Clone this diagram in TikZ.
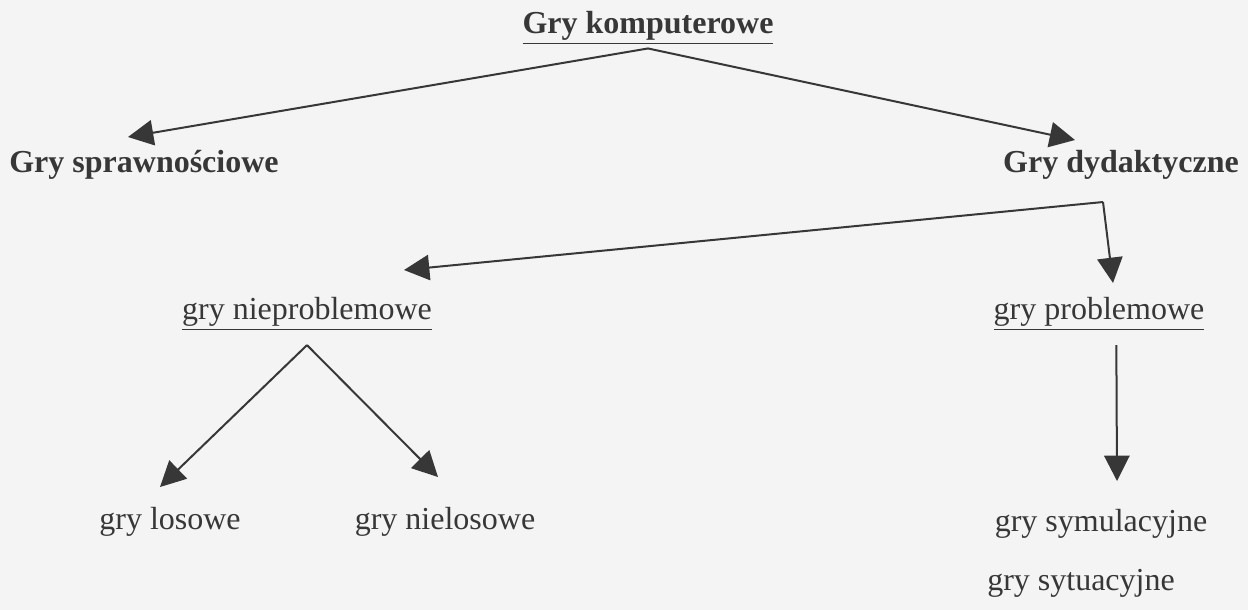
\documentclass[tikz,border=0pt]{standalone}
\usepackage{fontspec}
\setmainfont{Liberation Serif}
\usetikzlibrary{arrows.meta}
\definecolor{ink}{RGB}{55,55,55}
\definecolor{paper}{RGB}{244,244,244}

\begin{document}
\begin{tikzpicture}[x=0.375pt,y=-0.375pt,
		lbl/.style={anchor=base,text=ink,inner sep=1pt,font=\fontsize{12}{14}\selectfont},
		head/.style={lbl,font=\fontsize{12}{14}\selectfont\bfseries},
		arr/.style={-{Triangle[length=9.5pt,width=9.5pt]},draw=ink,line width=0.75pt}]
				\useasboundingbox (0,0) rectangle (1248,610);
				\fill[paper] (0,0) rectangle (1248,610);
				\node[head] at (648,33) (komp) {\underline{Gry komputerowe}};
				\node[head] at (144,172) (spraw) {Gry sprawnościowe};
				\node[head] at (1121,172) (dyd) {Gry dydaktyczne};
				\node[lbl] at (307,319) (nieprob) {\underline{gry nieproblemowe}};
				\node[lbl] at (1099,319) (prob) {\underline{gry problemowe}};
				\node[lbl] at (170,529) (los) {gry losowe};
				\node[lbl] at (445,529) (nielos) {gry nielosowe};
				\node[lbl] at (1101,531) (symul) {gry symulacyjne};
				\node[lbl] at (1081,590) (sytu) {gry sytuacyjne};
				
				% punkty pomocnicze
				\coordinate (dydc) at (1103,202);
				\coordinate (spraw-t) at (128,137);
				\coordinate (dyd-t) at (1075,140);
				\coordinate (nieprob-t) at (404,270);
				\coordinate (prob-t) at (1113,283);
				\coordinate (los-t) at (160,487);
				\coordinate (nielos-t) at (438,477);
				\coordinate (symul-t) at (1117,481);
				
				\draw[arr] (komp.south) -- (spraw-t);
				\draw[arr] (komp.south) -- (dyd-t);
				\draw[arr] (dydc) -- (nieprob-t);
				\draw[arr] (dydc) -- (prob-t);
				\draw[arr] ([yshift=-4pt]nieprob.south) -- (los-t);
				\draw[arr] ([yshift=-4pt]nieprob.south) -- (nielos-t);
				\draw[arr] ([xshift=6.5pt,yshift=-4pt]prob.south) -- (symul-t);
			\end{tikzpicture}
\end{document}
